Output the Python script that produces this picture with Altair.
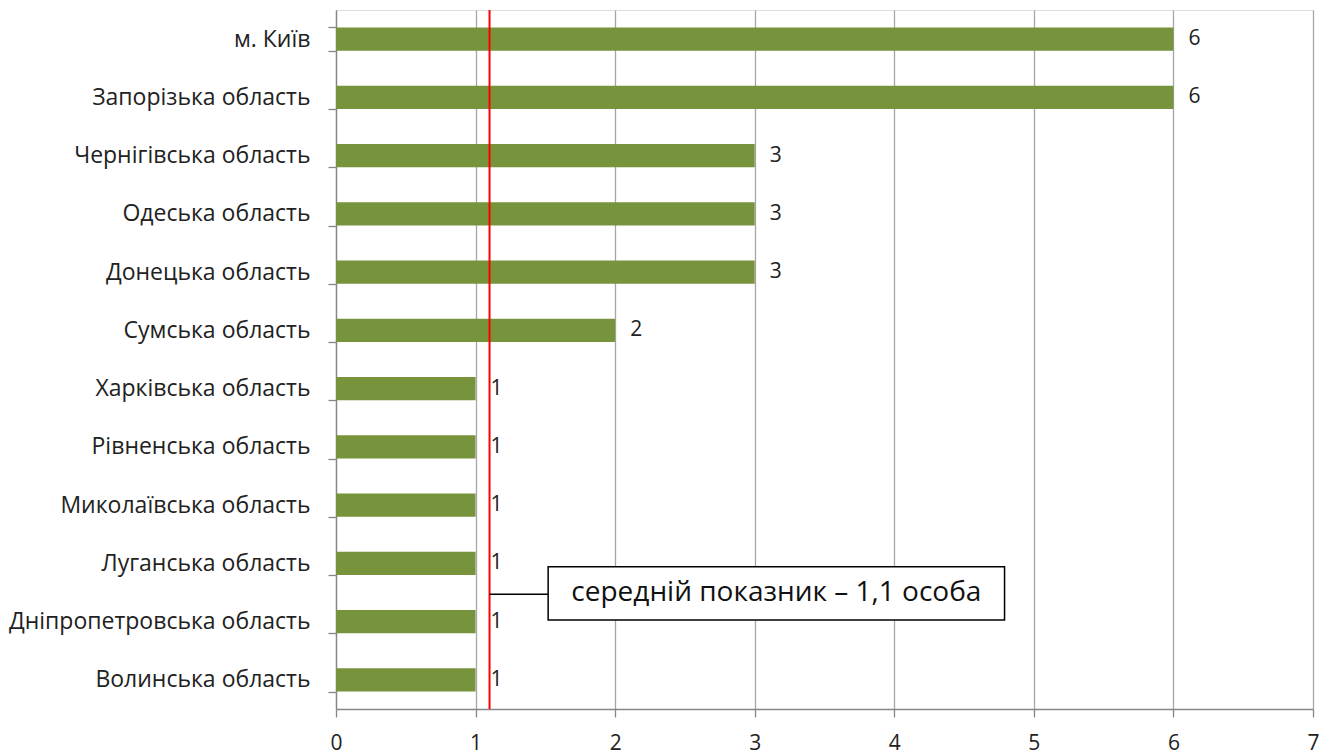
import altair as alt
import pandas as pd

regions = ["м. Київ", "Запорізька область", "Чернігівська область", "Одеська область",
           "Донецька область", "Сумська область", "Харківська область", "Рівненська область",
           "Миколаївська область", "Луганська область", "Дніпропетровська область", "Волинська область"]
counts = [6, 6, 3, 3, 3, 2, 1, 1, 1, 1, 1, 1]
mean_value = 1.1
note_text = "середній показник – 1,1 особа"

FONT = "Open Sans"
W, H = 977, 699

df = pd.DataFrame({"region": regions, "count": counts})

yscale = alt.Scale(domain=regions, paddingInner=0.6, paddingOuter=0.3)

bars = alt.Chart(df).mark_bar(color="#77933C").encode(
    x=alt.X("count:Q", scale=alt.Scale(domain=[0, 7], nice=False),
            axis=alt.Axis(title=None, values=[0, 1, 2, 3, 4, 5, 6, 7], format="d",
                          grid=True, gridColor="#A6A6A6", gridWidth=1.3,
                          domainColor="#868686", domainWidth=1.3, tickColor="#868686",
                          tickSize=8, tickWidth=1.3, labelFontSize=21, labelFont=FONT,
                          labelColor="#222", labelPadding=15, labelFlush=False)),
    y=alt.Y("region:N", scale=yscale, sort=regions,
            axis=alt.Axis(title=None, grid=False, tickBand="extent", domainColor="#868686",
                          domainWidth=1.3, tickColor="#868686", tickSize=8, tickWidth=1.3,
                          labelFontSize=23, labelFont=FONT, labelColor="#222",
                          labelPadding=18, labelLimit=400)),
)

labels = alt.Chart(df).mark_text(align="left", baseline="middle", dx=15, fontSize=21,
                                  font=FONT, color="#222").encode(
    x="count:Q", y=alt.Y("region:N", scale=yscale, sort=regions), text="count:Q")

main = alt.layer(bars, labels)

# annotation layer on an independent quantitative y scale (0..12 from bottom)
mean_df = pd.DataFrame({"x": [mean_value], "y0": [0.0], "y1": [12.0]})
ann_y = alt.Scale(domain=[0, 12], nice=False, zero=False)
rule = alt.Chart(mean_df).mark_rule(color="#FF0000", strokeWidth=2).encode(
    x="x:Q",
    y=alt.Y("y0:Q", scale=ann_y, axis=None),
    y2="y1:Q")

conn_df = pd.DataFrame({"x": [mean_value], "x2": [1.52], "y": [1.97]})
connector = alt.Chart(conn_df).mark_rule(color="#000", strokeWidth=1.3).encode(
    x="x:Q", x2="x2:Q", y=alt.Y("y:Q", scale=ann_y, axis=None))

box_df = pd.DataFrame({"x": [1.52], "x2": [4.79], "y": [1.53], "y2": [2.44],
                       "tx": [3.155], "ty": [1.985], "t": [note_text]})
box = alt.Chart(box_df).mark_rect(fill="white", stroke="#000", strokeWidth=1.5).encode(
    x="x:Q", x2="x2:Q", y=alt.Y("y:Q", scale=ann_y, axis=None), y2="y2:Q")
note = alt.Chart(box_df).mark_text(fontSize=28, font=FONT, color="#111",
                                   baseline="middle", align="center").encode(
    x="tx:Q", y=alt.Y("ty:Q", scale=ann_y, axis=None), text="t:N")

ann = alt.layer(rule, connector, box, note)

chart = alt.layer(main, ann).resolve_scale(y="independent").properties(
    width=W, height=H,
    autosize=alt.AutoSizeParams(type="none"),
    padding={"left": 328, "top": 2, "right": 10, "bottom": 46},
).configure_view(stroke=None).configure(background="white")

chart.save("out.html", embed_options={"renderer": "svg", "actions": False})
